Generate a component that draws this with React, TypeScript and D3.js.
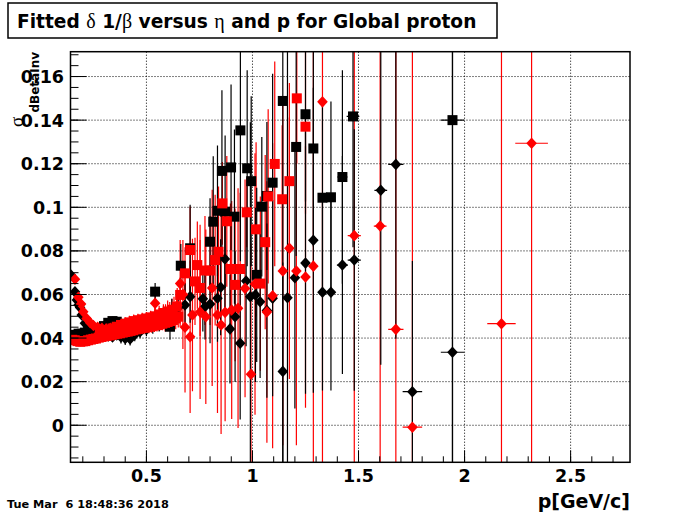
import React, { useEffect } from 'react';
import * as d3 from 'd3';

// each point: [p, value, pErr, valueErr]
type Pt = [number, number, number, number];

const xTickValues = [0.5, 1, 1.5, 2, 2.5];
const xTickLabels = ['0.5', '1', '1.5', '2', '2.5'];
const yTickValues = [0, 0.02, 0.04, 0.06, 0.08, 0.1, 0.12, 0.14, 0.16];
const yTickLabels = ['0', '0.02', '0.04', '0.06', '0.08', '0.1', '0.12', '0.14', '0.16'];

const blackSquares: Pt[] = [
  [0.150, 0.0410, 0.005, 0.002], [0.165, 0.0415, 0.005, 0.002], [0.180, 0.0420, 0.005, 0.002],
  [0.195, 0.0420, 0.005, 0.002], [0.210, 0.0425, 0.005, 0.002], [0.225, 0.0420, 0.005, 0.002],
  [0.240, 0.0425, 0.005, 0.002], [0.260, 0.0430, 0.008, 0.002], [0.280, 0.0440, 0.008, 0.002],
  [0.300, 0.0455, 0.008, 0.002], [0.320, 0.0470, 0.008, 0.002], [0.340, 0.0478, 0.008, 0.002],
  [0.360, 0.0475, 0.008, 0.002], [0.380, 0.0465, 0.008, 0.002], [0.400, 0.0460, 0.008, 0.003],
  [0.420, 0.0455, 0.008, 0.003], [0.440, 0.0460, 0.008, 0.003], [0.460, 0.0470, 0.008, 0.003],
  [0.480, 0.0480, 0.008, 0.003], [0.500, 0.0482, 0.008, 0.003], [0.520, 0.0490, 0.008, 0.003],
  [0.541, 0.0613, 0.008, 0.004], [0.560, 0.0485, 0.008, 0.004], [0.580, 0.0490, 0.008, 0.004],
  [0.611, 0.0452, 0.008, 0.006], [0.630, 0.0500, 0.008, 0.006], [0.662, 0.0732, 0.010, 0.010],
  [0.706, 0.0812, 0.010, 0.020], [0.800, 0.0842, 0.010, 0.020], [0.815, 0.0934, 0.010, 0.030],
  [0.835, 0.0984, 0.010, 0.030], [0.856, 0.1167, 0.010, 0.037], [0.871, 0.0980, 0.010, 0.035],
  [0.899, 0.1183, 0.010, 0.038], [0.915, 0.0957, 0.010, 0.040], [0.943, 0.1353, 0.010, 0.060],
  [0.975, 0.1179, 0.010, 0.045], [0.994, 0.1120, 0.010, 0.039], [1.020, 0.0690, 0.010, 0.040],
  [1.044, 0.1003, 0.010, 0.032], [1.068, 0.1052, 0.010, 0.034], [1.095, 0.1113, 0.010, 0.050],
  [1.143, 0.1488, 0.012, 0.200], [1.206, 0.1277, 0.012, 0.050], [1.250, 0.1427, 0.012, 0.040],
  [1.287, 0.1270, 0.015, 0.045], [1.330, 0.1044, 0.020, 0.045], [1.370, 0.1046, 0.020, 0.044],
  [1.424, 0.1139, 0.024, 0.049], [1.474, 0.1417, 0.030, 0.060], [1.943, 0.1400, 0.055, 0.200],
];

const blackDiamonds: Pt[] = [
  [0.144, 0.0689, 0.005, 0.002], [0.163, 0.0612, 0.005, 0.002], [0.172, 0.0575, 0.005, 0.002],
  [0.180, 0.0552, 0.005, 0.002], [0.187, 0.0540, 0.005, 0.002], [0.195, 0.0506, 0.005, 0.002],
  [0.210, 0.0468, 0.005, 0.002], [0.225, 0.0450, 0.008, 0.002], [0.240, 0.0440, 0.008, 0.002],
  [0.260, 0.0430, 0.008, 0.002], [0.280, 0.0420, 0.008, 0.002], [0.300, 0.0415, 0.008, 0.002],
  [0.320, 0.0410, 0.008, 0.002], [0.340, 0.0405, 0.008, 0.002], [0.360, 0.0414, 0.008, 0.002],
  [0.380, 0.0405, 0.008, 0.003], [0.400, 0.0398, 0.008, 0.003], [0.423, 0.0396, 0.008, 0.003],
  [0.445, 0.0415, 0.008, 0.003], [0.470, 0.0429, 0.008, 0.003], [0.500, 0.0440, 0.008, 0.003],
  [0.530, 0.0460, 0.008, 0.004], [0.560, 0.0470, 0.008, 0.004], [0.590, 0.0490, 0.008, 0.005],
  [0.620, 0.0520, 0.008, 0.006], [0.650, 0.0540, 0.008, 0.007], [0.682, 0.0552, 0.010, 0.010],
  [0.706, 0.0590, 0.010, 0.012], [0.766, 0.0580, 0.010, 0.015], [0.776, 0.0544, 0.010, 0.015],
  [0.800, 0.0556, 0.010, 0.018], [0.835, 0.0583, 0.010, 0.020], [0.850, 0.0633, 0.010, 0.022],
  [0.870, 0.0763, 0.010, 0.025], [0.894, 0.0442, 0.010, 0.025], [0.918, 0.0498, 0.010, 0.030],
  [0.942, 0.0376, 0.010, 0.035], [0.970, 0.0662, 0.010, 0.030], [0.990, 0.0590, 0.010, 0.080],
  [1.014, 0.0598, 0.010, 0.040], [1.036, 0.0567, 0.010, 0.035], [1.068, 0.0526, 0.010, 0.040],
  [1.095, 0.0583, 0.010, 0.045], [1.143, 0.0247, 0.010, 0.050], [1.165, 0.0585, 0.010, 0.200],
  [1.200, 0.0677, 0.010, 0.060], [1.250, 0.0744, 0.012, 0.060], [1.287, 0.0849, 0.021, 0.070],
  [1.330, 0.0610, 0.020, 0.045], [1.370, 0.0610, 0.020, 0.045], [1.424, 0.0735, 0.026, 0.050],
  [1.480, 0.0758, 0.031, 0.060], [1.605, 0.1078, 0.030, 0.080], [1.676, 0.1197, 0.036, 0.080],
  [1.754, 0.0154, 0.046, 0.060], [1.943, 0.0335, 0.055, 0.200],
];

const redSquares: Pt[] = [
  [0.150, 0.0392, 0.005, 0.002], [0.162, 0.0390, 0.005, 0.002], [0.175, 0.0386, 0.005, 0.002],
  [0.188, 0.0383, 0.005, 0.002], [0.200, 0.0385, 0.005, 0.002], [0.212, 0.0386, 0.005, 0.002],
  [0.225, 0.0390, 0.005, 0.002], [0.238, 0.0393, 0.005, 0.002], [0.250, 0.0396, 0.005, 0.002],
  [0.262, 0.0398, 0.005, 0.002], [0.275, 0.0402, 0.005, 0.002], [0.288, 0.0405, 0.005, 0.002],
  [0.300, 0.0408, 0.005, 0.002], [0.312, 0.0410, 0.005, 0.002], [0.325, 0.0412, 0.005, 0.002],
  [0.338, 0.0415, 0.005, 0.002], [0.350, 0.0418, 0.005, 0.002], [0.362, 0.0420, 0.005, 0.002],
  [0.375, 0.0422, 0.005, 0.002], [0.388, 0.0425, 0.005, 0.002], [0.400, 0.0428, 0.005, 0.002],
  [0.412, 0.0430, 0.005, 0.002], [0.425, 0.0433, 0.005, 0.002], [0.438, 0.0436, 0.005, 0.002],
  [0.450, 0.0440, 0.005, 0.003], [0.462, 0.0442, 0.005, 0.003], [0.475, 0.0445, 0.005, 0.003],
  [0.488, 0.0447, 0.005, 0.003], [0.500, 0.0450, 0.005, 0.003], [0.512, 0.0452, 0.005, 0.003],
  [0.525, 0.0455, 0.005, 0.003], [0.538, 0.0458, 0.005, 0.003], [0.550, 0.0460, 0.005, 0.003],
  [0.562, 0.0463, 0.005, 0.003], [0.575, 0.0466, 0.005, 0.003], [0.588, 0.0470, 0.005, 0.004],
  [0.600, 0.0474, 0.005, 0.004], [0.612, 0.0478, 0.005, 0.004], [0.625, 0.0483, 0.005, 0.004],
  [0.638, 0.0490, 0.005, 0.005], [0.650, 0.0498, 0.005, 0.005],
  [0.280, 0.0420, 0.005, 0.002], [0.300, 0.0428, 0.005, 0.002], [0.320, 0.0436, 0.005, 0.002],
  [0.340, 0.0444, 0.005, 0.002], [0.360, 0.0452, 0.005, 0.002], [0.380, 0.0460, 0.005, 0.002],
  [0.400, 0.0466, 0.005, 0.003], [0.420, 0.0472, 0.005, 0.003], [0.440, 0.0478, 0.005, 0.003],
  [0.460, 0.0482, 0.005, 0.003], [0.480, 0.0486, 0.005, 0.003], [0.500, 0.0490, 0.005, 0.003],
  [0.520, 0.0495, 0.005, 0.003], [0.540, 0.0500, 0.005, 0.004], [0.560, 0.0508, 0.005, 0.004],
  [0.580, 0.0515, 0.005, 0.004], [0.600, 0.0522, 0.005, 0.005], [0.620, 0.0530, 0.005, 0.005],
  [0.643, 0.0544, 0.005, 0.006], [0.659, 0.0598, 0.008, 0.008], [0.682, 0.0697, 0.010, 0.012],
  [0.706, 0.0804, 0.010, 0.020], [0.729, 0.0660, 0.010, 0.020], [0.740, 0.0735, 0.010, 0.020],
  [0.753, 0.0630, 0.010, 0.022], [0.776, 0.0710, 0.010, 0.025], [0.800, 0.0710, 0.010, 0.025],
  [0.824, 0.0758, 0.010, 0.030], [0.840, 0.0796, 0.010, 0.030], [0.858, 0.1018, 0.010, 0.019],
  [0.879, 0.0936, 0.010, 0.030], [0.896, 0.0717, 0.010, 0.030], [0.918, 0.0644, 0.010, 0.035],
  [0.942, 0.0717, 0.010, 0.035], [0.973, 0.0977, 0.010, 0.016], [1.017, 0.0899, 0.010, 0.040],
  [1.037, 0.0650, 0.010, 0.040], [1.060, 0.0840, 0.010, 0.040], [1.074, 0.1050, 0.010, 0.040],
  [1.105, 0.1199, 0.010, 0.047], [1.140, 0.1037, 0.010, 0.034], [1.174, 0.1120, 0.010, 0.045],
  [1.209, 0.1500, 0.012, 0.030], [1.250, 0.1370, 0.012, 0.040],
];

const redDiamonds: Pt[] = [
  [0.163, 0.0670, 0.005, 0.002], [0.179, 0.0587, 0.005, 0.002], [0.192, 0.0556, 0.005, 0.002],
  [0.202, 0.0521, 0.005, 0.002], [0.218, 0.0490, 0.005, 0.002], [0.235, 0.0470, 0.005, 0.002],
  [0.250, 0.0458, 0.005, 0.002], [0.270, 0.0450, 0.005, 0.002], [0.290, 0.0445, 0.005, 0.002],
  [0.310, 0.0442, 0.005, 0.002], [0.330, 0.0445, 0.005, 0.002], [0.350, 0.0448, 0.005, 0.002],
  [0.370, 0.0452, 0.005, 0.002], [0.390, 0.0458, 0.005, 0.002], [0.410, 0.0462, 0.005, 0.003],
  [0.430, 0.0466, 0.005, 0.003], [0.450, 0.0470, 0.005, 0.003], [0.470, 0.0474, 0.005, 0.003],
  [0.490, 0.0478, 0.005, 0.003], [0.510, 0.0482, 0.005, 0.003], [0.541, 0.0560, 0.005, 0.004],
  [0.550, 0.0490, 0.005, 0.004], [0.570, 0.0495, 0.005, 0.004], [0.590, 0.0505, 0.005, 0.005],
  [0.610, 0.0515, 0.005, 0.005], [0.630, 0.0530, 0.005, 0.006], [0.645, 0.0550, 0.005, 0.008],
  [0.659, 0.0650, 0.008, 0.020], [0.672, 0.0600, 0.008, 0.025], [0.682, 0.0450, 0.010, 0.030],
  [0.706, 0.0406, 0.010, 0.035], [0.717, 0.0506, 0.010, 0.035], [0.753, 0.0520, 0.010, 0.040],
  [0.780, 0.0498, 0.010, 0.040], [0.810, 0.0630, 0.010, 0.045], [0.835, 0.0506, 0.010, 0.045],
  [0.852, 0.0460, 0.010, 0.050], [0.871, 0.0518, 0.010, 0.050], [0.902, 0.0529, 0.010, 0.050],
  [0.932, 0.0537, 0.010, 0.055], [0.965, 0.0628, 0.010, 0.050], [0.993, 0.0234, 0.010, 0.060],
  [1.012, 0.0648, 0.010, 0.060], [1.068, 0.0520, 0.010, 0.060], [1.095, 0.0594, 0.010, 0.070],
  [1.143, 0.0708, 0.010, 0.080], [1.174, 0.0812, 0.010, 0.060], [1.207, 0.0708, 0.010, 0.080],
  [1.250, 0.0680, 0.012, 0.060], [1.287, 0.0730, 0.020, 0.200], [1.330, 0.1484, 0.020, 0.200],
  [1.480, 0.0870, 0.031, 0.200], [1.602, 0.0914, 0.030, 0.200], [1.676, 0.0440, 0.036, 0.200],
  [1.754, -0.0009, 0.046, 0.200], [2.174, 0.0466, 0.067, 0.200], [2.316, 0.1294, 0.077, 0.200],
];

const W = 700;
const H = 514;
const frame = { left: 70.5, right: 630, top: 51.7, bottom: 462.3 };
const boldFont = 'DejaVu Sans, Helvetica, Arial, sans-serif';
const greekFont = 'Liberation Serif, DejaVu Serif, serif';

const x = d3.scaleLinear().domain([0.142, 2.78]).range([frame.left, frame.right]);
const y = d3.scaleLinear().domain([-0.017, 0.1714]).range([frame.bottom, frame.top]);

const xMinor = d3.range(0.2, 2.75, 0.1);
const yMinor = d3.range(-0.015, 0.171, 0.005);

const diamond = 'M0,-5.8L5.3,0L0,5.8L-5.3,0Z';

function ErrorBars({ data, color }: { data: Pt[]; color: string }) {
  return (
    <g stroke={color} strokeWidth={1.2} clipPath="url(#frameClip)">
      {data.map((d, i) => (
        <g key={i}>
          <line x1={x(d[0] - d[2])} x2={x(d[0] + d[2])} y1={y(d[1])} y2={y(d[1])} />
          <line x1={x(d[0])} x2={x(d[0])} y1={y(d[1] - d[3])} y2={y(d[1] + d[3])} />
        </g>
      ))}
    </g>
  );
}

function Markers({ data, color, shape }: { data: Pt[]; color: string; shape: 'square' | 'diamond' }) {
  return (
    <g fill={color} clipPath="url(#frameClip)">
      {data.map((d, i) =>
        shape === 'square' ? (
          <rect key={i} x={x(d[0]) - 5} y={y(d[1]) - 5} width={10} height={10} />
        ) : (
          <path key={i} d={diamond} transform={`translate(${x(d[0])},${y(d[1])})`} />
        )
      )}
    </g>
  );
}

export default function App() {
  useEffect(() => {
    document.body.style.margin = '0';
  }, []);

  return (
    <svg width={W} height={H} style={{ display: 'block', background: '#fff' }}>
      <defs>
        <clipPath id="frameClip">
          <rect x={frame.left} y={frame.top} width={frame.right - frame.left} height={frame.bottom - frame.top} />
        </clipPath>
      </defs>
      <rect width={W} height={H} fill="#fff" />

      {/* title box */}
      <rect x={8} y={3} width={489} height={35} fill="#fff" stroke="#000" strokeWidth={1.5} />
      <text x={17} y={28} fontFamily={boldFont} fontWeight="bold" fontSize={18.6} fill="#000">
        Fitted <tspan fontFamily={greekFont} fontWeight="normal" fontSize={20}>δ</tspan> 1/
        <tspan fontFamily={greekFont} fontWeight="normal" fontSize={20}>β</tspan> versus{' '}
        <tspan fontFamily={greekFont} fontWeight="normal" fontSize={20}>η</tspan> and p for Global proton
      </text>

      {/* grid */}
      <g stroke="#000" strokeWidth={1} strokeDasharray="1,2">
        {xTickValues.map((v) => (
          <line key={v} x1={x(v)} x2={x(v)} y1={frame.top} y2={frame.bottom} />
        ))}
        {yTickValues.map((v) => (
          <line key={v} x1={frame.left} x2={frame.right} y1={y(v)} y2={y(v)} />
        ))}
      </g>

      {/* data: errors first, then markers */}
      <ErrorBars data={redSquares} color="#ff0000" />
      <ErrorBars data={redDiamonds} color="#ff0000" />
      <ErrorBars data={blackSquares} color="#000" />
      <ErrorBars data={blackDiamonds} color="#000" />
      <Markers data={blackSquares} color="#000" shape="square" />
      <Markers data={blackDiamonds} color="#000" shape="diamond" />
      <Markers data={redSquares} color="#ff0000" shape="square" />
      <Markers data={redDiamonds} color="#ff0000" shape="diamond" />

      {/* frame */}
      <rect x={frame.left} y={frame.top} width={frame.right - frame.left} height={frame.bottom - frame.top}
        fill="none" stroke="#000" strokeWidth={1.5} />

      {/* ticks */}
      <g stroke="#000" strokeWidth={1}>
        {xMinor.map((v, i) => (
          <line key={'xm' + i} x1={x(v)} x2={x(v)} y1={frame.bottom} y2={frame.bottom - 6} />
        ))}
        {xTickValues.map((v) => (
          <line key={'xM' + v} x1={x(v)} x2={x(v)} y1={frame.bottom} y2={frame.bottom - 12} />
        ))}
        {yMinor.map((v, i) => (
          <line key={'ym' + i} x1={frame.left} x2={frame.left + 8} y1={y(v)} y2={y(v)} />
        ))}
        {yTickValues.map((v) => (
          <line key={'yM' + v} x1={frame.left} x2={frame.left + 16} y1={y(v)} y2={y(v)} />
        ))}
      </g>

      {/* tick labels */}
      <g fontFamily={boldFont} fontWeight="bold" fontSize={17.5} fill="#000">
        {xTickValues.map((v, i) => (
          <text key={v} x={x(v)} y={482} textAnchor="middle">{xTickLabels[i]}</text>
        ))}
        {yTickValues.map((v, i) => (
          <text key={v} x={64} y={y(v) + 6.5} textAnchor="end">{yTickLabels[i]}</text>
        ))}
      </g>

      {/* axis titles */}
      <text x={630} y={508} textAnchor="end" fontFamily={boldFont} fontWeight="bold" fontSize={19}>p[GeV/c]</text>
      <text transform="translate(23,127) rotate(-90)" fontFamily={greekFont} fontSize={19}>σ</text>
      <text transform="translate(39,52) rotate(-90)" textAnchor="end" fontFamily={boldFont}
        fontWeight="bold" fontSize={12}>dBetaInv</text>

      <text x={7} y={508} fontFamily={boldFont} fontWeight="bold" fontSize={11.3} style={{ whiteSpace: 'pre' }}>
        {'Tue Mar  6 18:48:36 2018'}
      </text>
    </svg>
  );
}
